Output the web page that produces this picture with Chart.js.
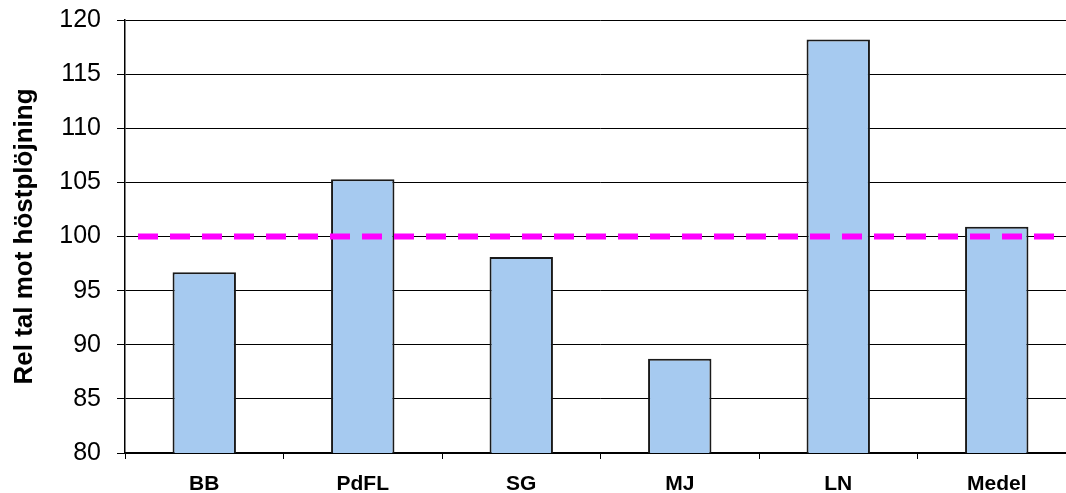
<!DOCTYPE html>
<html>
<head>
<meta charset="utf-8">
<script src="https://cdn.jsdelivr.net/npm/chart.js@4"></script>
<style>
  html, body { margin: 0; padding: 0; background: #fff; overflow: hidden; }
  #wrap { width: 1076px; height: 493px; }
</style>
</head>
<body>
<div id="wrap"><canvas id="myChart"></canvas></div>
<script>
const categories = ["BB", "PdFL", "SG", "MJ", "LN", "Medel"];
const relValues = [96.7, 105.3, 98.1, 88.7, 118.2, 100.9];
const referenceLevel = 100; // höstplöjning = 100
const yTicks = [80, 85, 90, 95, 100, 105, 110, 115, 120];

// streckad referenslinje vid 100
const refLine = {
  id: "refLine",
  afterDatasetsDraw(chart) {
    const { ctx, chartArea, scales } = chart;
    const y = scales.y.getPixelForValue(referenceLevel);
    ctx.save();
    ctx.strokeStyle = "#FF00FF";
    ctx.lineWidth = 6;
    ctx.setLineDash([20, 12]);
    ctx.beginPath();
    ctx.moveTo(chartArea.left + 13, y);
    ctx.lineTo(chartArea.right, y);
    ctx.stroke();
    ctx.restore();
  },
};

new Chart(document.getElementById("myChart"), {
  type: "bar",
  data: {
    labels: categories,
    datasets: [
      {
        data: relValues,
        backgroundColor: "#A6CAF0",
        borderColor: "#1a1a1a",
        borderWidth: 2,
        borderSkipped: false,
        barPercentage: 0.4,
        categoryPercentage: 1,
      },
    ],
  },
  options: {
    responsive: true,
    maintainAspectRatio: false,
    animation: false,
    layout: { padding: { top: 20, left: 0, right: 0, bottom: 0 } },
    plugins: { legend: { display: false }, tooltip: { enabled: false } },
    scales: {
      y: {
        min: 80,
        max: 120,
        afterBuildTicks: (scale) => {
          scale.ticks = yTicks.map((v) => ({ value: v }));
        },
        afterFit: (scale) => {
          scale.width = 125;
          scale.paddingTop = 0;
          scale.paddingBottom = 0;
        },
        title: {
          display: true,
          text: "Rel tal mot höstplöjning",
          color: "#000",
          font: { family: "Liberation Sans", size: 26, weight: "bold" },
          padding: { top: 9, bottom: 0 },
        },
        grid: { color: "#000", lineWidth: 1, tickLength: 8 },
        border: { color: "#000", width: 1.5 },
        ticks: {
          color: "#000",
          padding: 16,
          font: { family: "Liberation Sans", size: 25 },
        },
      },
      x: {
        afterFit: (scale) => {
          scale.height = 40;
          scale.paddingLeft = 0;
          scale.paddingRight = 0;
        },
        grid: { display: true, drawOnChartArea: false, offset: true, color: "#000", tickLength: 6 },
        border: { color: "#000", width: 1.5 },
        ticks: {
          color: "#000",
          padding: 13,
          font: { family: "Liberation Sans", size: 21, weight: "bold" },
        },
      },
    },
  },
  plugins: [refLine],
});
</script>
</body>
</html>
